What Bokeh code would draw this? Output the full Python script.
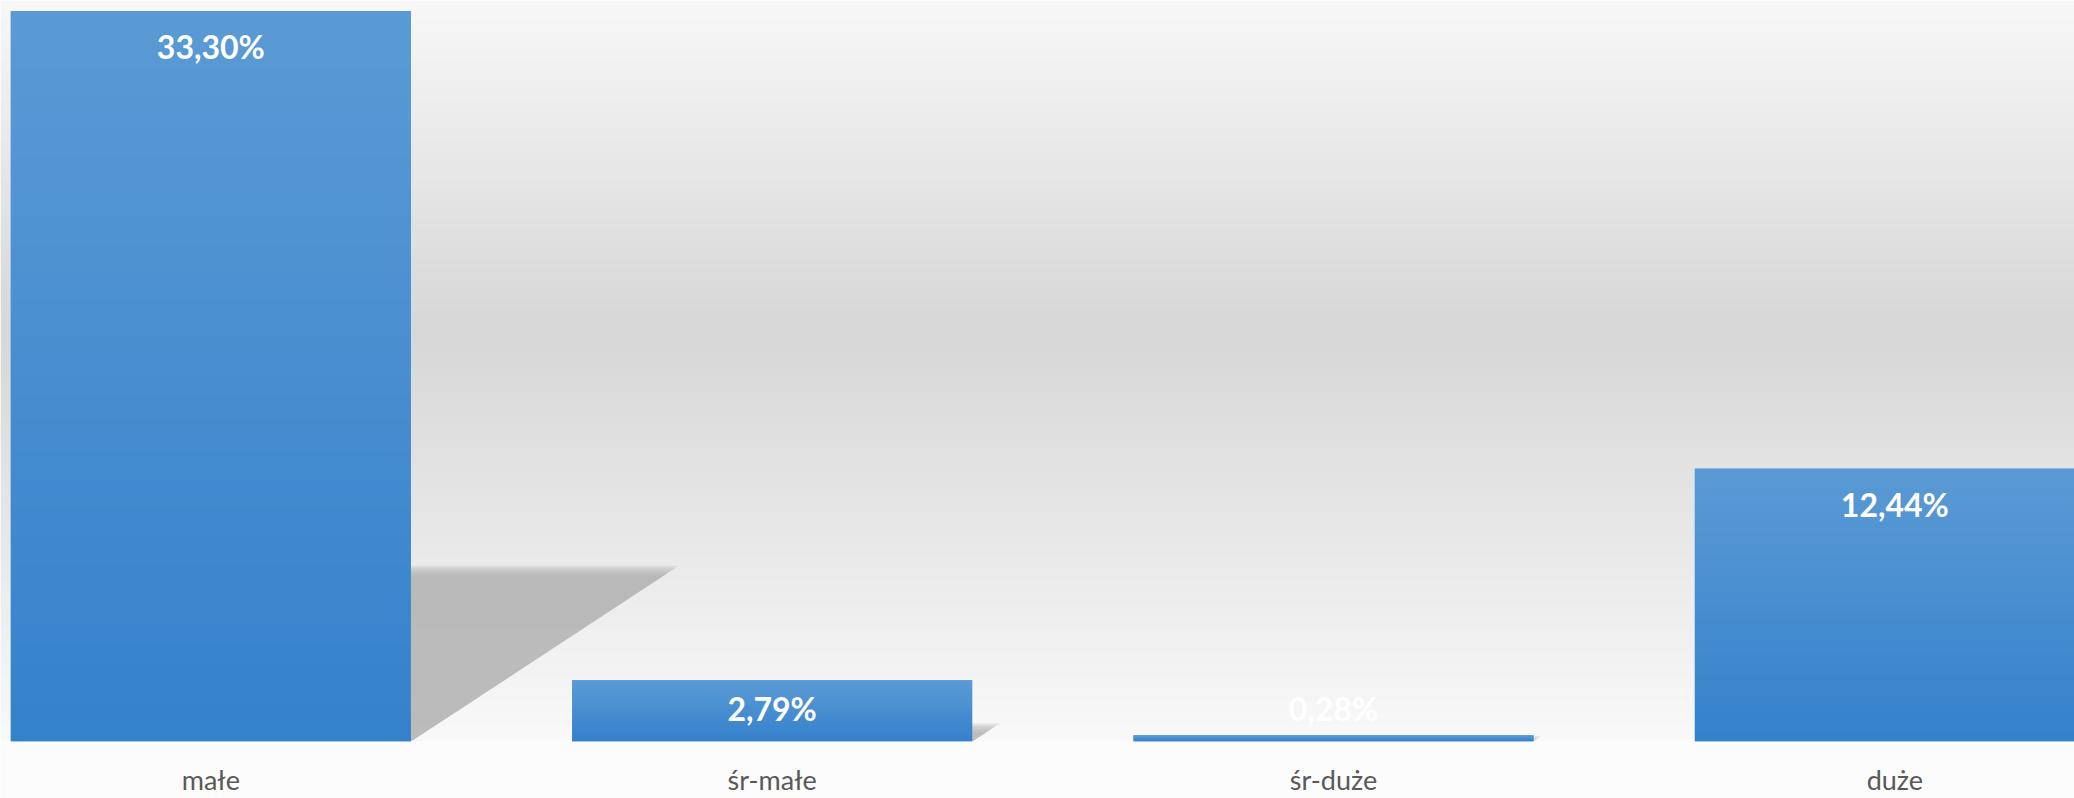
import numpy as np
from bokeh.plotting import figure
from bokeh.models import Range1d, FixedTicker, ColumnDataSource
from bokeh.core.properties import value
from bokeh.embed import file_html
from bokeh.resources import INLINE

# ---- data ----
categories = ["małe", "śr-małe", "śr-duże", "duże"]
values = [33.30, 2.79, 0.28, 12.44]
labels = ["33,30%", "2,79%", "0,28%", "12,44%"]

# ---- layout constants ----
W, H = 2074, 798
BOTTOM = 55
FRAME_H = H - BOTTOM
PPU = 21.994                      # pixels per percent
PPX = 561.35                      # pixels per category
Y_END = FRAME_H / PPU
X0 = -210.3 / PPX
X1 = X0 + W / PPX
BAR_W = 400 / PPX

p = figure(width=W, height=H, output_backend="svg", toolbar_location=None,
           x_range=Range1d(X0, X1), y_range=Range1d(0, Y_END),
           y_axis_location=None, min_border_left=0, min_border_right=0,
           min_border_top=0, min_border_bottom=BOTTOM,
           background_fill_color="#ffffff", border_fill_color="#fcfcfc",
           outline_line_color=None)
p.grid.visible = False

# ---- background gradient (frame) ----
def bg_level(py):
    stops_y = [0, 330, 798]
    stops_v = [248, 215, 254]
    return np.interp(py, stops_y, stops_v)

rows = FRAME_H
py = FRAME_H - (np.arange(rows) + 0.5)   # row 0 is bottom
lv = bg_level(py).astype(np.uint32)
img = (255 << 24) | (lv << 16) | (lv << 8) | lv
bg_img = np.repeat(img[:, None], 8, axis=1).astype(np.uint32)
p.image_rgba(image=[bg_img], x=X0, y=0, dw=X1 - X0, dh=Y_END)

# ---- soft shadows (layered, semi-transparent) ----
xs = np.arange(len(values), dtype=float)
for i, v in enumerate(values):
    xr = xs[i] + BAR_W / 2
    top = 0.235 * v
    wdt = 0.0140 * v
    for k in range(-3, 3):
        dy = k * 2.0 / PPU
        dx = k * 3.0 / PPX
        t = max(top + dy, 0)
        p.patch([xr, xr + max(wdt + dx, 0), xr], [t, t, 0],
                fill_color="#b0b0b0", fill_alpha=0.25, line_color=None)

# ---- bars with vertical gradient ----
top_c = np.array([91, 155, 213])
bot_c = np.array([53, 130, 204])
for i, v in enumerate(values):
    n = max(int(round(v * PPU)), 2)
    t = np.linspace(0, 1, n)[:, None]        # 0 bottom -> 1 top
    c = (bot_c + (top_c - bot_c) * t).astype(np.uint32)
    px = (255 << 24) | (c[:, 2] << 16) | (c[:, 1] << 8) | c[:, 0]
    arr = np.repeat(px[:, None], 4, axis=1).astype(np.uint32)
    p.vbar(x=[xs[i]], top=[v], width=BAR_W, fill_color="#4a8fd2", line_color=None)
    p.image_rgba(image=[arr], x=xs[i] - BAR_W / 2, y=0, dw=BAR_W, dh=v)

# ---- data labels ----
label_y = [max(v - 36 / PPU, 33 / PPU) for v in values]
src = ColumnDataSource(dict(x=xs, y=label_y, t=labels))
p.text(x="x", y="y", text="t", source=src, text_align="center",
       text_baseline="middle", text_color="#ffffff",
       text_font=value("Lato"), text_font_style="bold", text_font_size="32px")

# ---- axis ----
p.xaxis.ticker = FixedTicker(ticks=list(range(len(categories))))
p.xaxis.major_label_overrides = {i: c for i, c in enumerate(categories)}
p.xaxis.axis_line_color = None
p.xaxis.major_tick_line_color = None
p.xaxis.minor_tick_line_color = None
p.xaxis.major_tick_out = 0
p.xaxis.major_tick_in = 0
p.xaxis.major_label_standoff = 21
p.xaxis.major_label_text_font = "Lato"
p.xaxis.major_label_text_font_size = "27px"
p.xaxis.major_label_text_color = "#595959"

open("out.html", "w").write(file_html(p, INLINE))
